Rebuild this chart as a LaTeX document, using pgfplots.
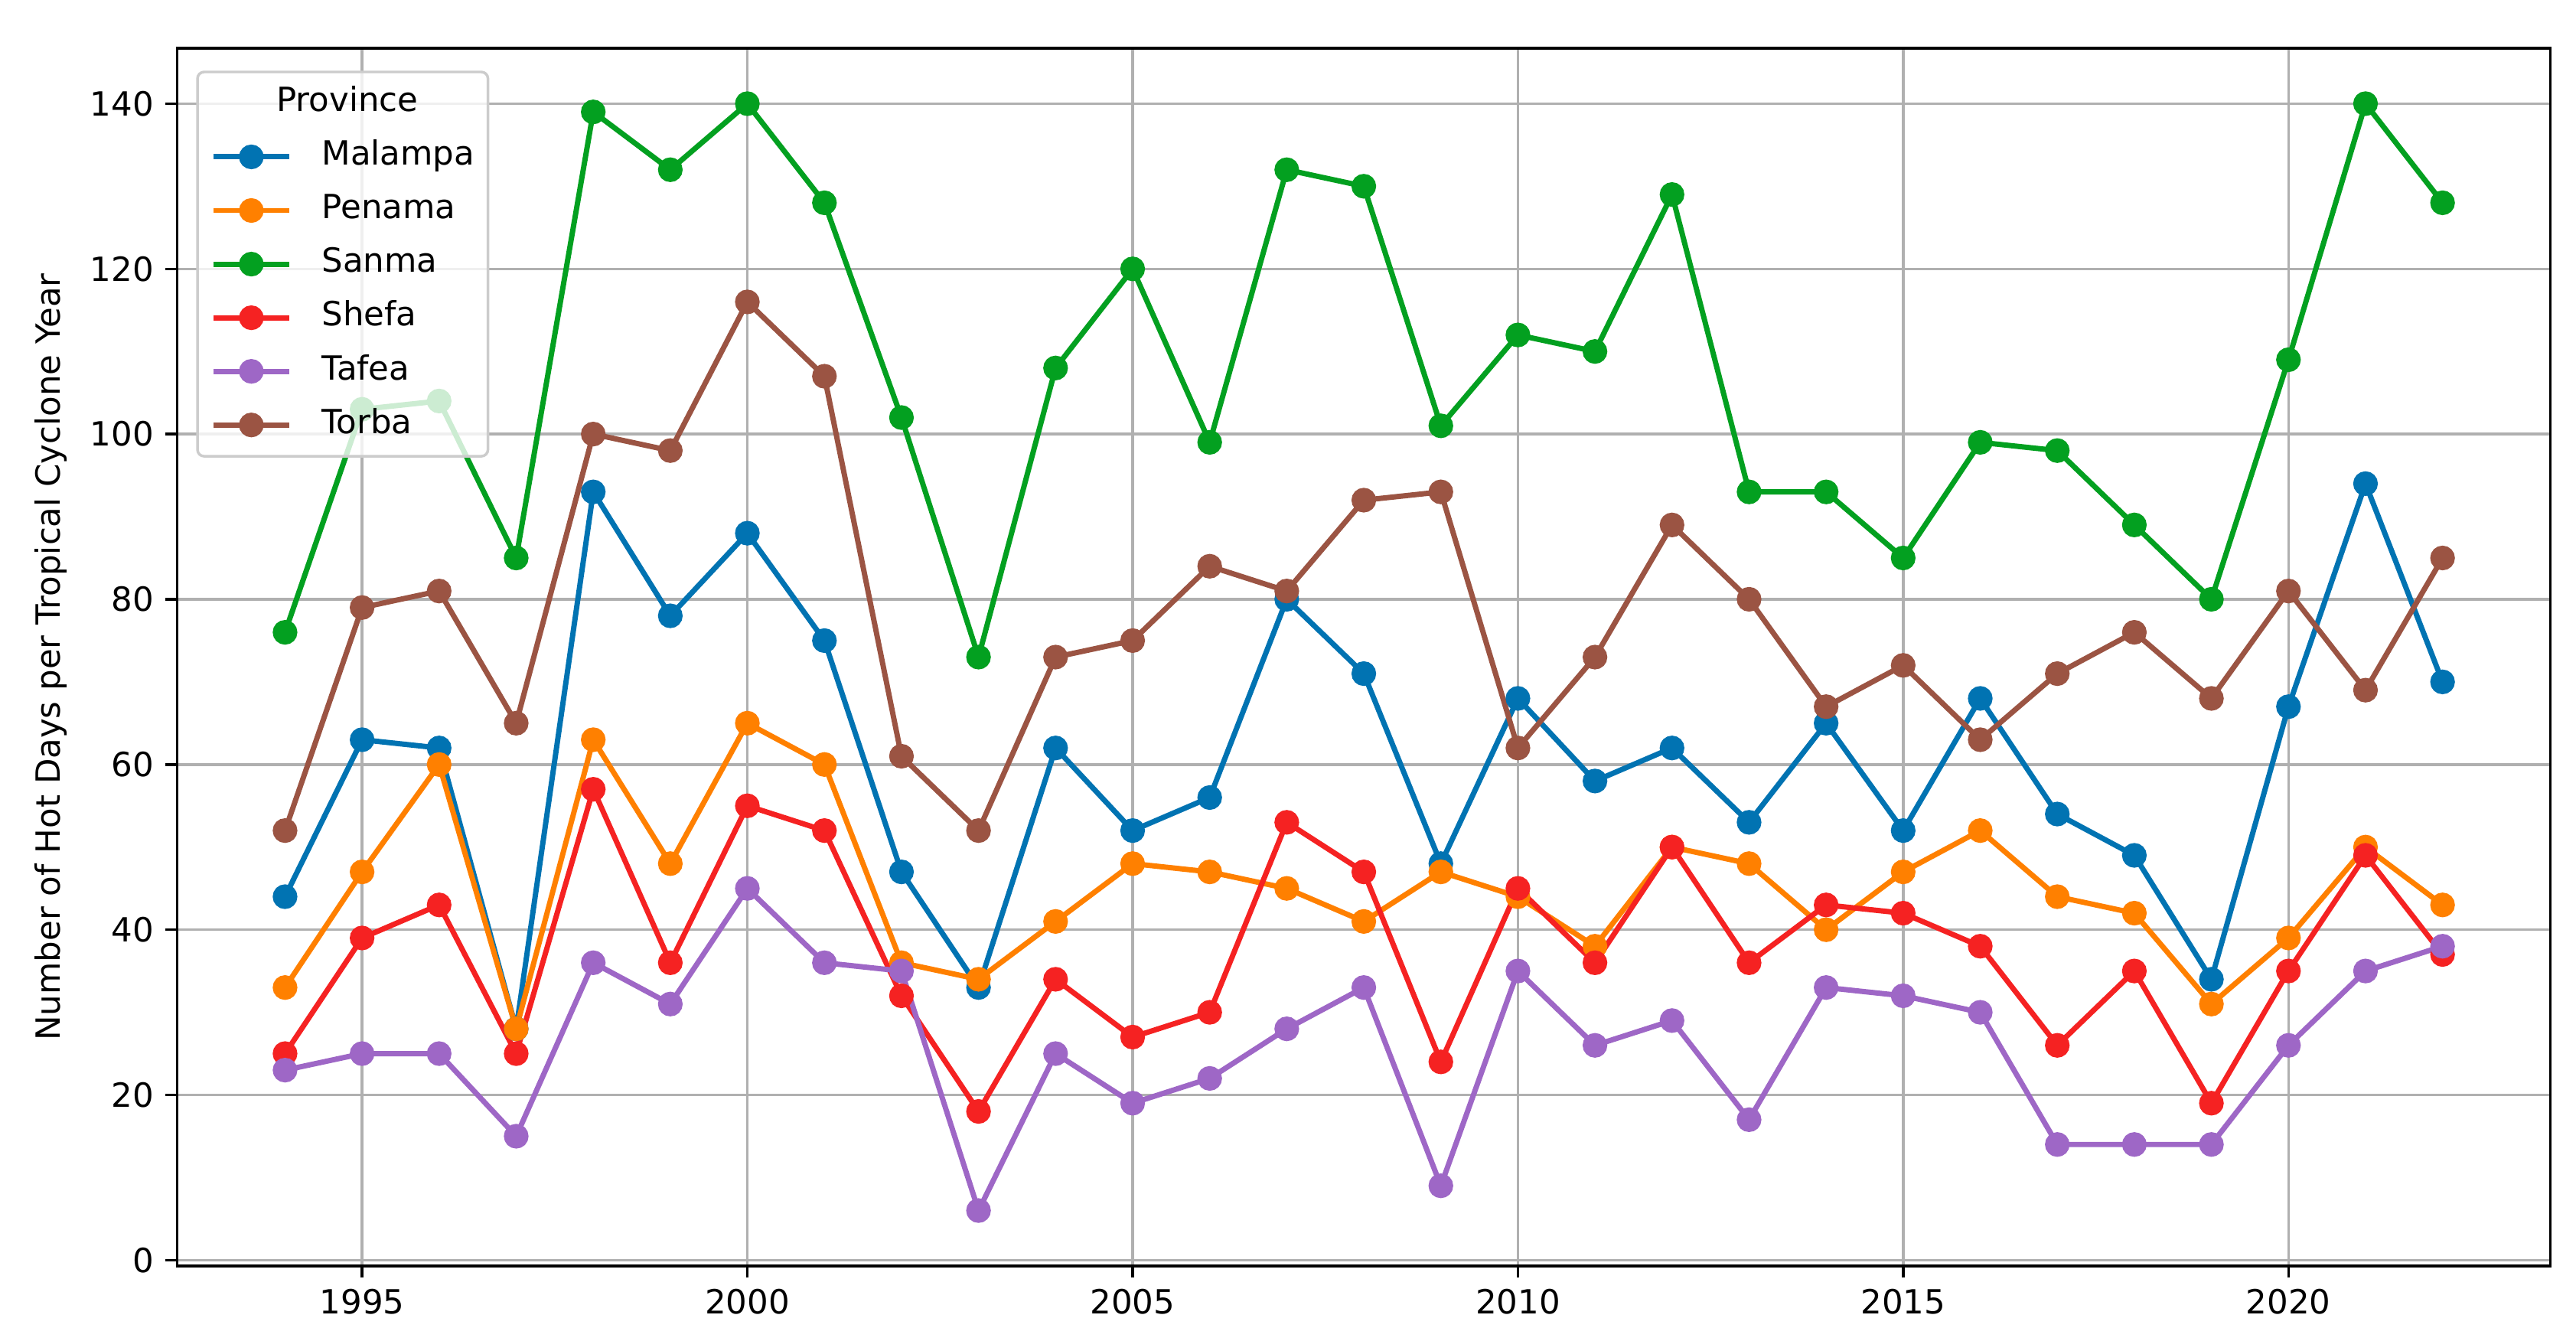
\documentclass[border=0pt]{standalone}
\usepackage{fontspec}
\setmainfont{DejaVu Sans}
\usepackage{pgfplots}
\pgfplotsset{compat=1.18}

\definecolor{cmal}{HTML}{0173B2}
\definecolor{cpen}{HTML}{FF8000}
\definecolor{csan}{HTML}{03A020}
\definecolor{cshe}{HTML}{F52222}
\definecolor{ctaf}{HTML}{9E67C6}
\definecolor{ctor}{HTML}{9B5443}
\definecolor{gridgray}{HTML}{B0B0B0}
\definecolor{legframe}{HTML}{CCCCCC}

\begin{document}
\begin{tikzpicture}
\begin{axis}[
    name=ax,
    width=25.05cm, height=12.85cm, scale only axis,
    xmin=1992.6, xmax=2023.4, ymin=-0.7, ymax=146.7,
    xtick={1995,2000,...,2020}, ytick={0,20,...,140},
    /pgf/number format/1000 sep={},
    /pgf/number format/assume math mode=true,
    tick align=outside, xtick pos=bottom, ytick pos=left,
    major tick length=3.5pt,
    tick style={black, line width=0.8pt},
    axis line style={line width=0.8pt},
    grid=major, grid style={gridgray, line width=0.8pt},
    ylabel={Number of Hot Days per Tropical Cyclone Year},
    every axis plot/.append style={line width=1.6pt, mark=*, mark size=2.9pt, mark options={solid}},
    legend cell align=left,
    legend image code/.code={\draw[mark repeat=2,mark phase=2] plot coordinates {(0cm,0cm) (0.4cm,0cm) (0.8cm,0cm)};},
    legend style={at={(0,1)}, anchor=north west, xshift=5.7pt, yshift=-6.7pt,
        draw=legframe, line width=0.8pt, rounded corners=2pt,
        fill=white, fill opacity=0.8, text opacity=1, draw opacity=1,
        inner xsep=4pt, inner ysep=4.4pt, row sep=6.1pt, column sep=9pt,
        nodes={inner sep=0pt, text height=7.5pt, text depth=2.5pt}},
    legend image post style={fill opacity=1},
]
\addlegendimage{empty legend}
\addlegendentry{\hspace*{-13.6pt}Province}

\addplot[color=cmal] coordinates {
(1994,44) (1995,63) (1996,62) (1997,28) (1998,93) (1999,78) (2000,88) (2001,75)
(2002,47) (2003,33) (2004,62) (2005,52) (2006,56) (2007,80) (2008,71) (2009,48)
(2010,68) (2011,58) (2012,62) (2013,53) (2014,65) (2015,52) (2016,68) (2017,54)
(2018,49) (2019,34) (2020,67) (2021,94) (2022,70)};
\addlegendentry{Malampa}

\addplot[color=cpen] coordinates {
(1994,33) (1995,47) (1996,60) (1997,28) (1998,63) (1999,48) (2000,65) (2001,60)
(2002,36) (2003,34) (2004,41) (2005,48) (2006,47) (2007,45) (2008,41) (2009,47)
(2010,44) (2011,38) (2012,50) (2013,48) (2014,40) (2015,47) (2016,52) (2017,44)
(2018,42) (2019,31) (2020,39) (2021,50) (2022,43)};
\addlegendentry{Penama}

\addplot[color=csan] coordinates {
(1994,76) (1995,103) (1996,104) (1997,85) (1998,139) (1999,132) (2000,140) (2001,128)
(2002,102) (2003,73) (2004,108) (2005,120) (2006,99) (2007,132) (2008,130) (2009,101)
(2010,112) (2011,110) (2012,129) (2013,93) (2014,93) (2015,85) (2016,99) (2017,98)
(2018,89) (2019,80) (2020,109) (2021,140) (2022,128)};
\addlegendentry{Sanma}

\addplot[color=cshe] coordinates {
(1994,25) (1995,39) (1996,43) (1997,25) (1998,57) (1999,36) (2000,55) (2001,52)
(2002,32) (2003,18) (2004,34) (2005,27) (2006,30) (2007,53) (2008,47) (2009,24)
(2010,45) (2011,36) (2012,50) (2013,36) (2014,43) (2015,42) (2016,38) (2017,26)
(2018,35) (2019,19) (2020,35) (2021,49) (2022,37)};
\addlegendentry{Shefa}

\addplot[color=ctaf] coordinates {
(1994,23) (1995,25) (1996,25) (1997,15) (1998,36) (1999,31) (2000,45) (2001,36)
(2002,35) (2003,6) (2004,25) (2005,19) (2006,22) (2007,28) (2008,33) (2009,9)
(2010,35) (2011,26) (2012,29) (2013,17) (2014,33) (2015,32) (2016,30) (2017,14)
(2018,14) (2019,14) (2020,26) (2021,35) (2022,38)};
\addlegendentry{Tafea}

\addplot[color=ctor] coordinates {
(1994,52) (1995,79) (1996,81) (1997,65) (1998,100) (1999,98) (2000,116) (2001,107)
(2002,61) (2003,52) (2004,73) (2005,75) (2006,84) (2007,81) (2008,92) (2009,93)
(2010,62) (2011,73) (2012,89) (2013,80) (2014,67) (2015,72) (2016,63) (2017,71)
(2018,76) (2019,68) (2020,81) (2021,69) (2022,85)};
\addlegendentry{Torba}
\end{axis}
\pgfresetboundingbox
\path[use as bounding box] ([xshift=-1.87cm,yshift=-0.79cm]ax.south west) rectangle ([xshift=0.27cm,yshift=0.51cm]ax.north east);
\end{tikzpicture}
\end{document}
